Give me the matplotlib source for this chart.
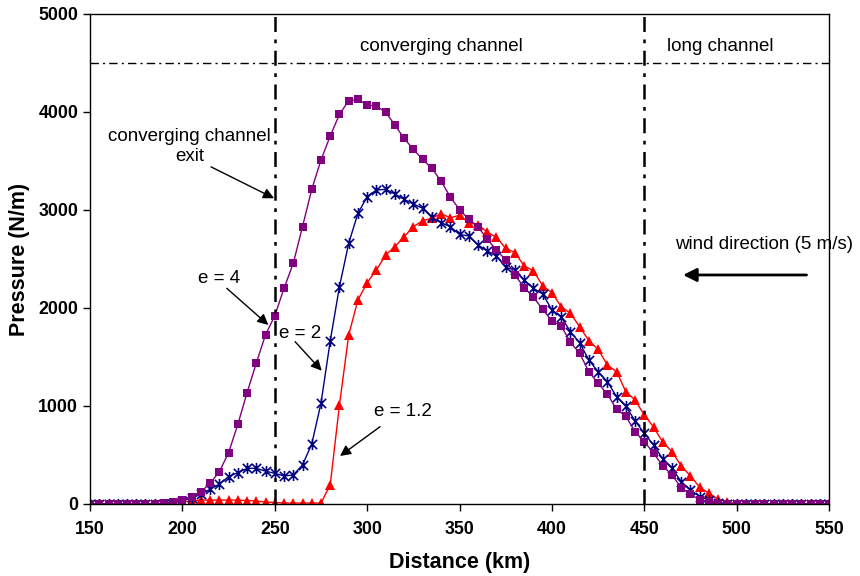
import matplotlib
matplotlib.use("Agg")
import matplotlib.pyplot as plt
import numpy as np
from matplotlib.path import Path

plt.rcParams["font.family"] = ["Liberation Sans", "DejaVu Sans"]

# distance along the channel (km), one point every 5 km
distance = np.arange(150, 555, 5)

pressure_e4 = [
    0, 0, 0, 0, 0, 0, 0, 0,
    10, 17, 40, 75, 125, 211, 330, 524, 813, 1136,
    1439, 1728, 1921, 2201, 2456, 2830, 3211, 3510, 3755, 3976,
    4115, 4130, 4071, 4061, 3997, 3867, 3731, 3619, 3517, 3425,
    3295, 3133, 3003, 2905, 2830, 2701, 2592, 2490, 2337, 2207,
    2109, 1987, 1867, 1819, 1650, 1538, 1350, 1231, 1122, 966,
    895, 738, 636, 520, 388, 296, 166, 99, 41, 23,
    3, 3, 3, 3, 3, 3, 3, 3, 3, 3, 3, 3, 3,
]

pressure_e2 = [
    0, 0, 0, 0, 0, 0, 0, 0,
    5, 15, 35, 60, 100, 150, 204, 279, 320, 364,
    364, 335, 313, 286, 296, 398, 612, 1027, 1663, 2218,
    2660, 2966, 3136, 3204, 3211, 3163, 3109, 3061, 3017, 2925,
    2870, 2830, 2750, 2735, 2643, 2582, 2531, 2415, 2388, 2286,
    2201, 2143, 1980, 1911, 1758, 1646, 1469, 1350, 1248, 1095,
    996, 850, 721, 602, 460, 364, 228, 143, 75, 40,
    15, 3, 3, 3, 3, 3, 3, 3, 3, 3, 3, 3, 3,
]

pressure_e12 = [
    0, 0, 0, 0, 0, 0, 0, 0, 0, 0,
    25, 30, 40, 40, 40, 40, 40, 35, 30, 20,
    15, 10, 10, 10, 10, 10, 194, 1010, 1724, 2082,
    2259, 2388, 2541, 2626, 2728, 2830, 2891, 2915, 2962, 2920,
    2947, 2870, 2850, 2775, 2721, 2609, 2565, 2429, 2381, 2225,
    2157, 2014, 1946, 1809, 1667, 1578, 1418, 1350, 1146, 1061,
    908, 786, 630, 534, 388, 286, 170, 109, 48, 20,
    3, 3, 3, 3, 3, 3, 3, 3, 3, 3, 3,
]

channel_exit = 250
channel_start = 450
region_line = 4500

# Excel-style star: an x with a vertical bar through it
star = Path(
    [(-1, -1), (1, 1), (-1, 1), (1, -1), (0, -1.2), (0, 1.2)],
    [Path.MOVETO, Path.LINETO] * 3,
)

fig = plt.figure(figsize=(8.6, 5.76), dpi=100)
ax = fig.add_axes([0.1047, 0.125, 0.8593, 0.8507])

ax.plot(distance, pressure_e12, color="#FF0000", marker="^", markersize=6.5,
        lw=1.0, markeredgewidth=0)
ax.plot(distance, pressure_e2, color="#000080", marker=star, markersize=8,
        lw=1.0, markeredgewidth=1.2)
ax.plot(distance, pressure_e4, color="#800080", marker="s", markersize=6,
        lw=1.0, markeredgewidth=0)

# channel boundaries
for xv in (channel_exit, channel_start):
    ax.axvline(xv, color="black", lw=1.8, linestyle=(0, (6, 3, 1.5, 3)))
ax.axhline(region_line, color="black", lw=1.0, linestyle=(0, (6, 3, 1.5, 3)))

ax.set_xlim(150, 550)
ax.set_ylim(0, 5000)
ax.set_xticks(np.arange(150, 551, 50))
ax.set_yticks(np.arange(0, 5001, 1000))
ax.tick_params(direction="out", length=5, width=1, labelsize=12.8)
for lab in ax.get_xticklabels() + ax.get_yticklabels():
    lab.set_fontweight("bold")
ax.tick_params(axis="x", pad=7)
for sp in ax.spines.values():
    sp.set_linewidth(1.0)

ax.set_xlabel("Distance (km)", fontsize=15.5, fontweight="bold", labelpad=10)
ax.set_ylabel("Pressure (N/m)", fontsize=15.5, fontweight="bold", labelpad=6)

fs = 13.5
ax.text(340, 4665, "converging channel", ha="center", va="center", fontsize=fs)
ax.text(491, 4665, "long channel", ha="center", va="center", fontsize=fs)
ax.text(204, 3650, "converging channel\nexit", ha="center", va="center",
        fontsize=fs, linespacing=1.25)
ax.text(220, 2306, "e = 4", ha="center", va="center", fontsize=fs)
ax.text(263.6, 1742, "e = 2", ha="center", va="center", fontsize=fs)
ax.text(319.5, 942, "e = 1.2", ha="center", va="center", fontsize=fs)
ax.text(514.7, 2653, "wind direction (5 m/s)", ha="center", va="center", fontsize=fs)

arrow = dict(arrowstyle="-|>", color="black", lw=1.0, mutation_scale=16,
             shrinkA=0, shrinkB=0)
ax.annotate("", xy=(249.6, 3120), xytext=(215.5, 3440), arrowprops=arrow)
ax.annotate("", xy=(246.5, 1827), xytext=(224, 2201), arrowprops=arrow)
ax.annotate("", xy=(275.4, 1360), xytext=(261, 1656), arrowprops=arrow)
ax.annotate("", xy=(285.3, 490), xytext=(307, 789), arrowprops=arrow)
wind = dict(arrowstyle="-|>", color="black", lw=2.0, mutation_scale=20,
            shrinkA=0, shrinkB=0)
ax.annotate("", xy=(471, 2337), xytext=(537.8, 2337), arrowprops=wind)

fig.savefig("out.png", dpi=100)
